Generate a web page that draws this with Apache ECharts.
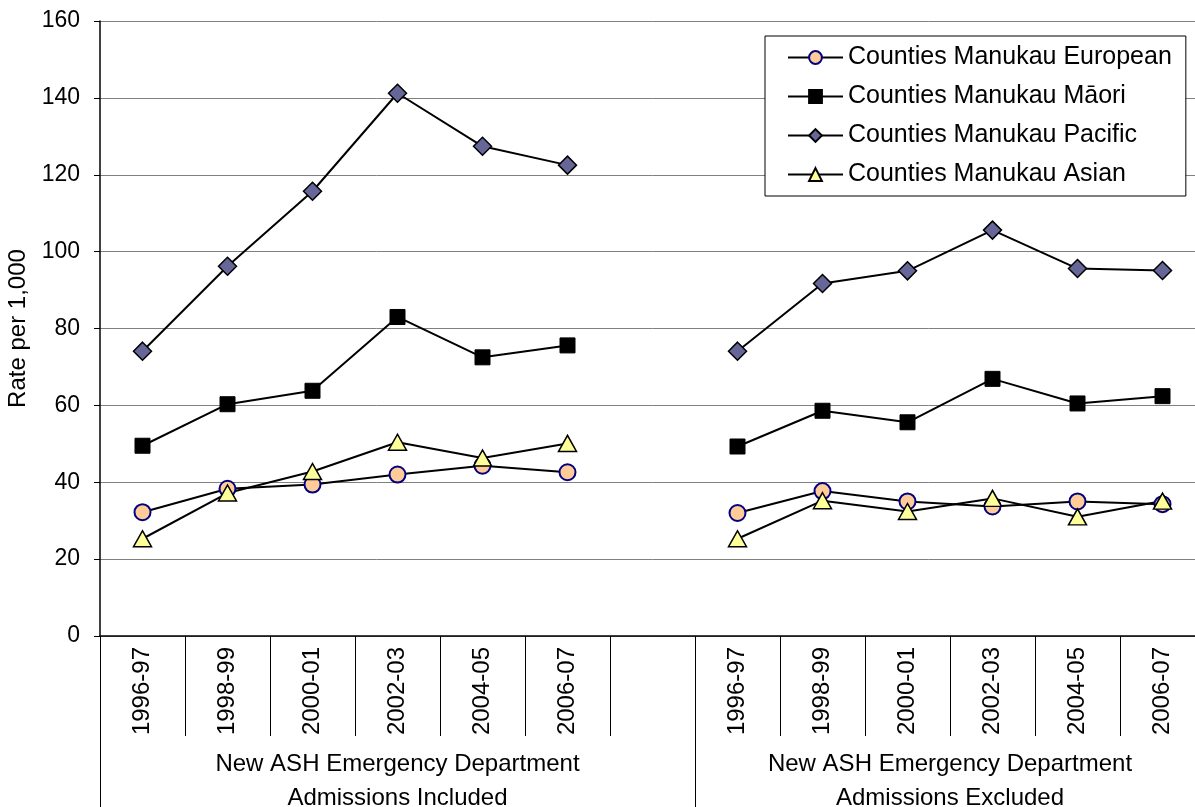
<!DOCTYPE html>
<html>
<head>
<meta charset="utf-8">
<script src="https://cdn.jsdelivr.net/npm/echarts@6/dist/echarts.min.js"></script>
<style>
html,body{margin:0;padding:0;background:#fff;overflow:hidden;}
#chart{width:1215px;height:807px;}
</style>
</head>
<body>
<div id="chart"></div>
<script>
// ---- data ----
const periods = ['1996-97','1998-99','2000-01','2002-03','2004-05','2006-07'];
const groupNames = ['New ASH Emergency Department\nAdmissions Included','New ASH Emergency Department\nAdmissions Excluded'];
const yTicks = [0,20,40,60,80,100,120,140,160];

const europeanIncl = [32.2, 38.3, 39.4, 42.0, 44.3, 42.6];
const europeanExcl = [32.0, 37.7, 35.0, 33.7, 35.0, 34.3];
const maoriIncl    = [49.5, 60.3, 63.8, 83.0, 72.5, 75.6];
const maoriExcl    = [49.3, 58.6, 55.6, 66.9, 60.5, 62.4];
const pacificIncl  = [74.1, 96.2, 115.7, 141.2, 127.4, 122.5];
const pacificExcl  = [74.1, 91.7, 95.0, 105.6, 95.6, 95.1];
const asianIncl    = [25.3, 37.2, 42.8, 50.4, 46.3, 50.1];
const asianExcl    = [25.3, 35.2, 32.4, 35.8, 31.0, 35.1];

const seriesNames = ['Counties Manukau European','Counties Manukau M\u0101ori','Counties Manukau Pacific','Counties Manukau Asian'];

// ---- build ----
const categories = periods.concat([''], periods);
function join(a, b){ return a.concat([null], b); }
const groupSizes = [periods.length + 1, periods.length];
const groupBounds = [0, groupSizes[0]];
const groupCenters = [groupSizes[0]/2, groupSizes[0] + groupSizes[1]/2];
const total = groupSizes[0] + groupSizes[1];

const FONT = '"Liberation Sans", Arial, sans-serif';

const styles = [
  {symbol:'circle', symbolSize:16, itemStyle:{color:'#FFCC99', borderColor:'#000080', borderWidth:2}},
  {symbol:'rect', symbolSize:15, itemStyle:{color:'#000000', borderColor:'#000000', borderWidth:1}},
  {symbol:'diamond', symbolSize:[18,18], itemStyle:{color:'#666699', borderColor:'#000000', borderWidth:1.5}},
  {symbol:'triangle', symbolSize:[18,16], itemStyle:{color:'#FFFF99', borderColor:'#000000', borderWidth:1.5}}
];
const dataSets = [
  join(europeanIncl, europeanExcl),
  join(maoriIncl, maoriExcl),
  join(pacificIncl, pacificExcl),
  join(asianIncl, asianExcl)
];

const series = seriesNames.map((n, i) => Object.assign({
  name: n,
  type: 'line',
  data: dataSets[i],
  connectNulls: false,
  lineStyle: {color:'#000000', width:2},
  emphasis: {disabled:true},
  animation: false
}, styles[i]));

const chart = echarts.init(document.getElementById('chart'), null, {renderer:'canvas'});
chart.setOption({
  backgroundColor: '#ffffff',
  animation: false,
  textStyle: {fontFamily: FONT},
  grid: {left:100, top:21, width:1105, height:615, containLabel:false, outerBoundsMode:'none'},
  legend: {
    orient: 'vertical',
    left: 765,
    top: 36,
    backgroundColor: '#ffffff',
    borderColor: '#000000',
    borderWidth: 1,
    padding: [9, 14, 9, 22],
    itemGap: 14,
    itemWidth: 55,
    itemHeight: 16,
    textStyle: {fontFamily: FONT, fontSize: 25, color:'#000000', lineHeight: 24},
    data: seriesNames,
    selectedMode: false,
    z: 10
  },
  xAxis: [
    {
      type: 'category',
      data: categories,
      boundaryGap: true,
      axisLine: {show:true, lineStyle:{color:'#000000', width:1.5}},
      axisTick: {show:true, interval:0, length:100, lineStyle:{color:'#000000', width:1}},
      axisLabel: {interval:0, rotate:90, margin:11, fontSize:24, color:'#000000', fontFamily: FONT},
      splitLine: {show:false}
    },
    {
      type: 'value',
      min: 0,
      max: total,
      position: 'bottom',
      axisLine: {show:false},
      axisTick: {show:true, customValues: groupBounds, length:175, lineStyle:{color:'#000000', width:1}},
      axisLabel: {
        show: true,
        customValues: groupCenters,
        margin: 111,
        fontSize: 24,
        lineHeight: 34,
        color: '#000000',
        fontFamily: FONT,
        align: 'center',
        formatter: function(v){ return v === groupCenters[0] ? groupNames[0] : groupNames[1]; }
      },
      splitLine: {show:false}
    }
  ],
  yAxis: {
    type: 'value',
    min: yTicks[0],
    max: yTicks[yTicks.length-1],
    interval: 20,
    name: 'Rate per 1,000',
    nameLocation: 'middle',
    nameRotate: 90,
    nameGap: 70,
    nameMoveOverlap: false,
    nameTextStyle: {fontSize:24, color:'#000000', fontFamily: FONT},
    axisLine: {show:true, lineStyle:{color:'#000000', width:1.5}},
    axisTick: {show:true, inside:false, length:6, lineStyle:{color:'#000000'}},
    axisLabel: {fontSize:23, color:'#000000', margin:20, fontFamily: FONT},
    splitLine: {show:true, lineStyle:{color:'#808080', width:1}}
  },
  series: series
});
</script>
</body>
</html>
